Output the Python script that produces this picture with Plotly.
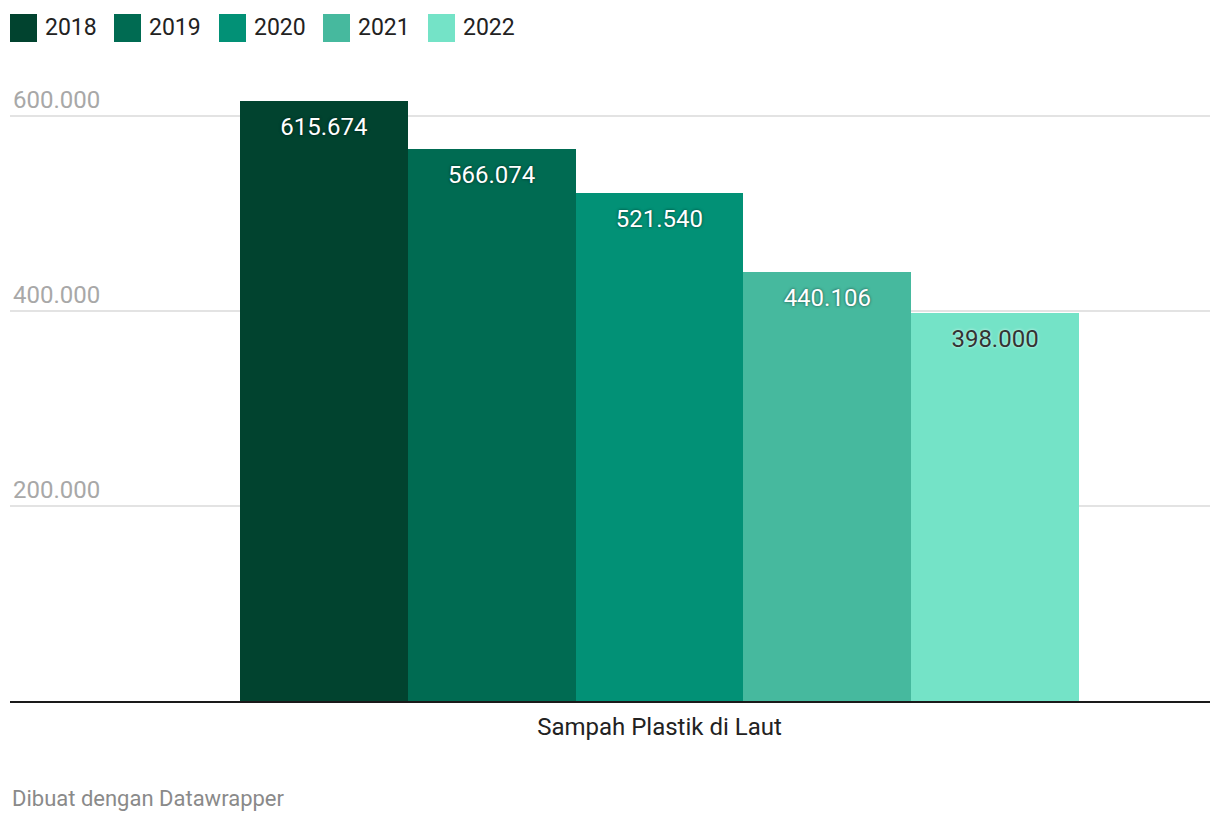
import plotly.graph_objects as go

years = ["2018", "2019", "2020", "2021", "2022"]
values = [615674, 566074, 521540, 440106, 398000]
category = "Sampah Plastik di Laut"
colors = ["#01432f", "#006b52", "#029176", "#46b99e", "#74e3c7"]
label_colors = ["#ffffff", "#ffffff", "#ffffff", "#ffffff", "#333333"]
label_shadows = ["0px 0px 3px rgba(0,0,0,0.6)"] * 4 + ["0px 0px 3px rgba(255,255,255,0.8)"]
tick_vals = [200000, 400000, 600000]
tick_text = ["200.000", "400.000", "600.000"]


def fmt(v):
    return f"{v:,}".replace(",", ".")


OFF = 8  # page body margin
W, H = 1220, 822
L, R, T, B = 10 - OFF, 10 + OFF, 80 - OFF, 121 + OFF
PW, PH = W - L - R, H - T - B


def px(xp):
    return (xp - OFF - L) / PW


def py(yp):
    return (H - B - (yp - OFF)) / PH


fig = go.Figure()
for i, yr in enumerate(years):
    fig.add_trace(go.Bar(
        x=[category], y=[values[i]], name=yr, offsetgroup=yr,
        marker=dict(color=colors[i], line=dict(width=0)),
        showlegend=False, hoverinfo="skip",
    ))
    fig.add_trace(go.Scatter(
        x=[category], y=[values[i]], offsetgroup=yr, mode="markers+text",
        text=[fmt(values[i])], textposition="bottom center",
        marker=dict(size=24, opacity=0),
        textfont=dict(family="Roboto", size=24, color=label_colors[i], shadow=label_shadows[i]),
        showlegend=False, hoverinfo="skip",
    ))

shapes = []
annotations = []
leg_x = [10, 114, 219, 323, 428]
for i, yr in enumerate(years):
    x0 = leg_x[i]
    shapes.append(dict(type="rect", xref="paper", yref="paper",
                       x0=px(x0), x1=px(x0 + 27), y0=py(42), y1=py(14),
                       fillcolor=colors[i], line=dict(width=0)))
    annotations.append(dict(xref="paper", yref="paper", x=px(x0 + 33), y=py(27),
                            text=yr, showarrow=False, xanchor="left", yanchor="middle",
                            font=dict(family="Roboto", size=23, color="#222222")))

annotations.append(dict(xref="paper", yref="paper", x=px(10), y=py(798),
                        text="Dibuat dengan Datawrapper", showarrow=False,
                        xanchor="left", yanchor="middle",
                        font=dict(family="Roboto", size=22, color="#8a8a8a")))

fig.update_layout(
    width=W, height=H,
    margin=dict(l=L, r=R, t=T, b=B),
    paper_bgcolor="white", plot_bgcolor="white",
    barmode="group", bargap=0, bargroupgap=0,
    scattermode="group", scattergap=0,
    showlegend=False,
    shapes=shapes, annotations=annotations,
    font=dict(family="Roboto"),
    xaxis=dict(type="category", range=[-0.7741, 0.6562], showgrid=False,
               showline=True, linecolor="#1a1a1a", linewidth=2,
               ticks="", tickfont=dict(family="Roboto", size=24, color="#222222"),
               ticklabelstandoff=3, fixedrange=True),
    yaxis=dict(range=[0, 636923], tickvals=tick_vals, ticktext=tick_text,
               ticklabelposition="inside top", ticks="",
               tickfont=dict(family="Roboto", size=24, color="#a8a8a8"),
               showgrid=True, gridcolor="#e3e3e3", gridwidth=1.5,
               zeroline=False, showline=False, fixedrange=True),
)

fig.write_html("out.html")
